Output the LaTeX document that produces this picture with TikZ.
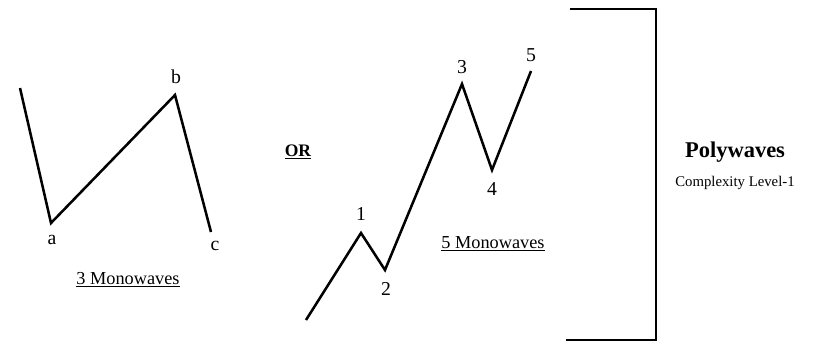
\documentclass[tikz,border=0pt]{standalone}
\usepackage{fontspec}
\setmainfont{Liberation Serif}
\begin{document}
\begin{tikzpicture}[x=0.025cm, y=-0.025cm]

            \useasboundingbox (0,0) rectangle (825,344);

            \tikzset{wave/.style={line width=1.8pt, line join=miter},
                     lbl/.style={font=\fontsize{14}{16}\selectfont, inner sep=1pt}}

            % three monowaves
            \coordinate (s0) at (20,88);
            \coordinate (a) at (51,223);
            \coordinate (b) at (175,95);
            \coordinate (c) at (211,232);
            \draw[wave] (s0) -- (a) -- (b) -- (c);

            \node[lbl] (la) at (52,240) {a};
            \node[lbl] (lb) at (176,77) {b};
            \node[lbl] (lc) at (215,246) {c};
            \node[font=\fontsize{13}{15}\selectfont] (three) at (128,280) {\underline{3 Monowaves}};

            \node[font=\bfseries\fontsize{12.5}{15}\selectfont] (or) at (298,152) {\underline{OR}};

            % five monowaves
            \coordinate (t0) at (306,320);
            \coordinate (p1) at (361,233);
            \coordinate (p2) at (385,270);
            \coordinate (p3) at (462,84);
            \coordinate (p4) at (492,170);
            \coordinate (p5) at (531,71);
            \draw[wave] (t0) -- (p1) -- (p2) -- (p3) -- (p4) -- (p5);

            \node[lbl] (l1) at (361,214) {1};
            \node[lbl] (l2) at (386,289) {2};
            \node[lbl] (l3) at (462,67) {3};
            \node[lbl] (l4) at (492,189) {4};
            \node[lbl] (l5) at (531,55) {5};
            \node[font=\fontsize{13}{15}\selectfont] (five) at (493,244) {\underline{5 Monowaves}};

            % bracket
            \coordinate (bt) at (570,9);
            \coordinate (bb) at (566,340);
            \draw[line width=1.4pt] (bt) -- (656,9) -- (656,340) -- (bb);

            \node[font=\bfseries\fontsize{16}{18}\selectfont] (poly) at (735,152) {Polywaves};
            \node[font=\fontsize{10.5}{12}\selectfont] (level) at (735,183) {Complexity Level-1};

        \end{tikzpicture}
\end{document}
